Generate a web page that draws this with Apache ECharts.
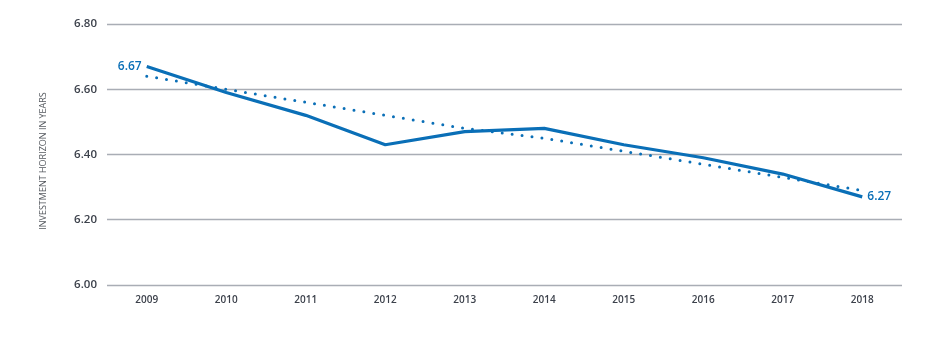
<!DOCTYPE html>
<html>
<head>
<meta charset="utf-8">
<style>
  html, body { margin: 0; padding: 0; background: #ffffff; }
  #chart { width: 936px; height: 340px; }
</style>
<script src="https://cdn.jsdelivr.net/npm/echarts@6/dist/echarts.min.js"></script>
</head>
<body>
<div id="chart"></div>
<script>
// Average investment horizon by year, with its trend line
const years = ['2009', '2010', '2011', '2012', '2013', '2014', '2015', '2016', '2017', '2018'];
const horizon = [6.67, 6.59, 6.52, 6.43, 6.47, 6.48, 6.43, 6.39, 6.34, 6.27];
const trend = [6.64, 6.60, 6.56, 6.52, 6.48, 6.45, 6.41, 6.37, 6.33, 6.29];
const yTicks = { min: 6.0, max: 6.8, step: 0.2 };
const yTitle = 'INVESTMENT HORIZON IN YEARS';

const blue = '#0a6fb7';
const textGray = '#3c414b';
const font = '"Open Sans", sans-serif';
const lastIdx = horizon.length - 1;

const chart = echarts.init(document.getElementById('chart'), null, { renderer: 'canvas' });
chart.setOption({
  animation: false,
  grid: { left: 107, right: 34, top: 24, bottom: 55 },
  graphic: [{
    type: 'text',
    x: 43,
    y: 161,
    rotation: Math.PI / 2,
    style: {
      text: yTitle,
      fill: '#55595f',
      font: '9px "Open Sans", sans-serif',
      align: 'center',
      verticalAlign: 'middle'
    }
  }],
  xAxis: {
    type: 'category',
    data: years,
    boundaryGap: true,
    axisLine: { show: false },
    axisTick: { show: false },
    axisLabel: {
      color: textGray, fontFamily: font, fontWeight: 600, fontSize: 10, margin: 10
    }
  },
  yAxis: {
    type: 'value',
    min: yTicks.min,
    max: yTicks.max,
    interval: yTicks.step,
    axisLine: { show: false },
    axisTick: { show: false },
    splitLine: { lineStyle: { color: '#a9adb5', width: 1.3 } },
    axisLabel: {
      color: textGray, fontFamily: font, fontWeight: 600, fontSize: 11.5, margin: 10,
      formatter: v => v.toFixed(2)
    }
  },
  series: [
    {
      type: 'line',
      data: trend,
      symbol: 'none',
      z: 2,
      lineStyle: { color: blue, width: 3, type: [0, 10], cap: 'round' }
    },
    {
      type: 'line',
      data: horizon.map((v, i) => ({
        value: v,
        label: {
          show: i === 0 || i === lastIdx,
          position: i === 0 ? 'left' : 'right',
          distance: 5,
          formatter: p => p.value.toFixed(2),
          color: blue, fontFamily: font, fontWeight: 600, fontSize: 12
        }
      })),
      symbol: 'circle',
      symbolSize: 0.1,
      showSymbol: true,
      z: 3,
      lineStyle: { color: blue, width: 3.2, join: 'round' },
      itemStyle: { color: blue }
    }
  ]
});
</script>
</body>
</html>
